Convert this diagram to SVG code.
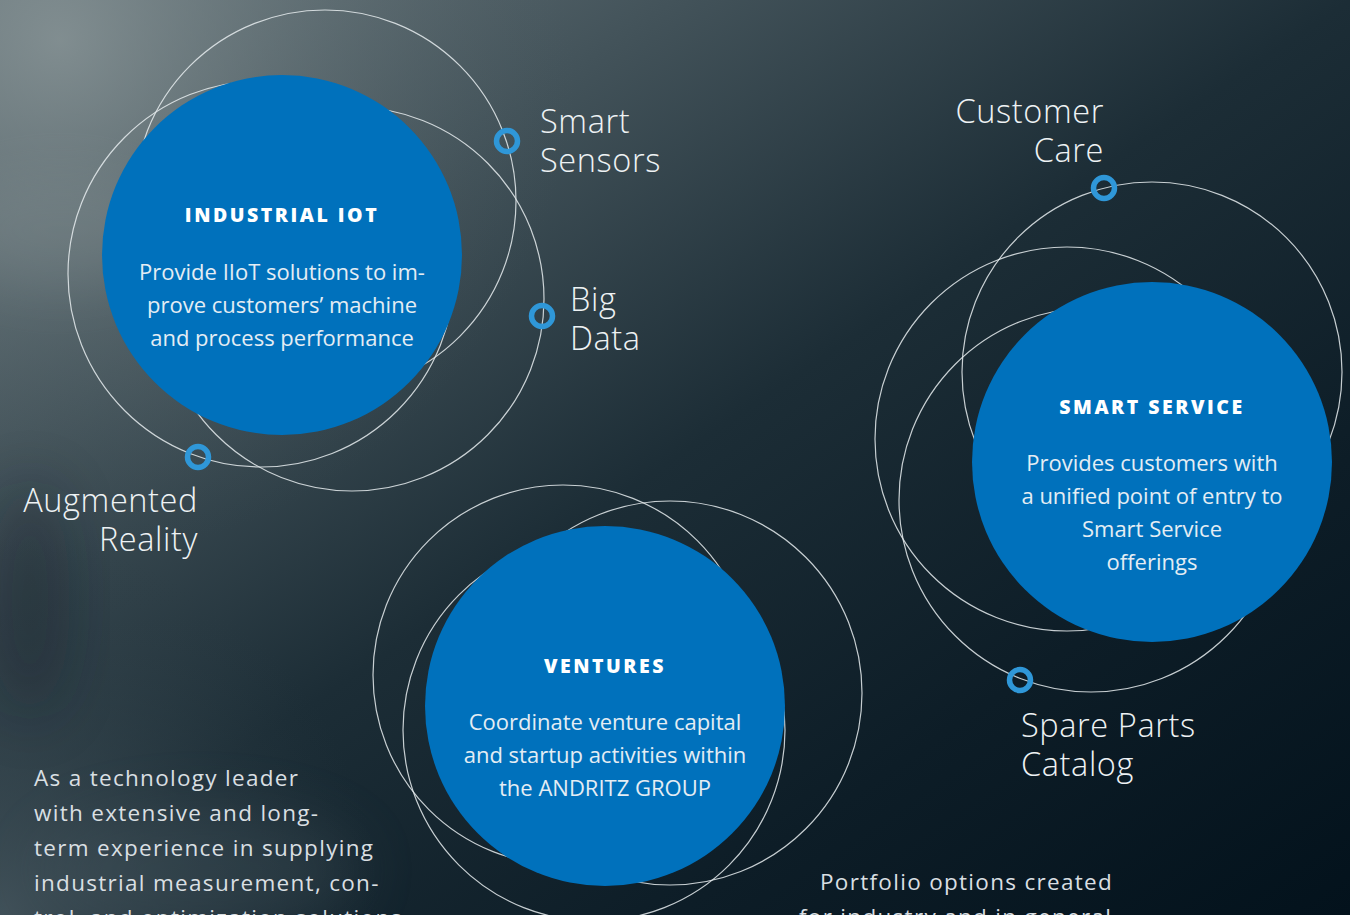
<svg xmlns="http://www.w3.org/2000/svg" width="1350" height="915" viewBox="0 0 1350 915">
<defs>
<linearGradient id="bg" x1="0" y1="0" x2="1" y2="1">
<stop offset="0" stop-color="#6c7a7f"/>
<stop offset="0.25" stop-color="#43535a"/>
<stop offset="0.5" stop-color="#1c2d36"/>
<stop offset="0.75" stop-color="#0d1d27"/>
<stop offset="1" stop-color="#03121c"/>
</linearGradient>
<radialGradient id="glowTL" cx="60" cy="40" r="520" gradientUnits="userSpaceOnUse">
<stop offset="0" stop-color="#8a9698" stop-opacity="0.75"/>
<stop offset="0.5" stop-color="#6a787c" stop-opacity="0.35"/>
<stop offset="1" stop-color="#4a585e" stop-opacity="0"/>
</radialGradient>
<radialGradient id="glowBL" cx="0" cy="915" r="380" gradientUnits="userSpaceOnUse">
<stop offset="0" stop-color="#4a5a62" stop-opacity="0.8"/>
<stop offset="1" stop-color="#2a3a42" stop-opacity="0"/>
</radialGradient>
<filter id="blur" x="-50%" y="-50%" width="200%" height="200%">
<feGaussianBlur stdDeviation="30"/>
</filter>
<style>
.orbit{fill:none;stroke:#e6ecef;stroke-width:1.2;stroke-opacity:0.85}
.hub{fill:#0071bc}
.ring{fill:none;stroke:#2f97d8;stroke-width:5.5}
.title{font-family:"Open Sans","Liberation Sans",sans-serif;font-weight:800;font-size:19.5px;letter-spacing:2.5px;fill:#ffffff;text-anchor:middle}
.body{font-family:"Open Sans","Liberation Sans",sans-serif;font-size:22px;fill:#e4edf4;text-anchor:middle}
.label{font-family:"Open Sans","Liberation Sans",sans-serif;font-weight:300;font-size:32.5px;letter-spacing:0.6px;fill:#eef2f4}
.para{font-family:"Open Sans","Liberation Sans",sans-serif;font-size:22.5px;letter-spacing:1.3px;fill:#d9dfe2}
</style>
</defs>

<g id="background">
<rect width="1350" height="915" fill="url(#bg)"/>
<rect width="1350" height="915" fill="url(#glowTL)"/>
<rect width="1350" height="915" fill="url(#glowBL)"/>
<ellipse cx="60" cy="230" rx="120" ry="60" fill="#9aa4a6" opacity="0.2" filter="url(#blur)"/>
<ellipse cx="30" cy="600" rx="40" ry="120" fill="#0a1820" opacity="0.3" filter="url(#blur)"/>
<ellipse cx="200" cy="870" rx="160" ry="60" fill="#4a5a62" opacity="0.3" filter="url(#blur)"/>
</g>

<g id="connectors">
<circle class="orbit" cx="325" cy="201" r="191"/>
<circle class="orbit" cx="261" cy="274" r="193"/>
<circle class="orbit" cx="352" cy="299" r="192"/>
<circle class="orbit" cx="1152" cy="372" r="190"/>
<circle class="orbit" cx="1067" cy="439" r="192"/>
<circle class="orbit" cx="1091" cy="500" r="192"/>
<circle class="orbit" cx="563" cy="675" r="190"/>
<circle class="orbit" cx="670" cy="693" r="192"/>
<circle class="orbit" cx="594" cy="730" r="191"/>
</g>

<g id="industrial-iot">
<circle class="hub" cx="282" cy="255" r="180"/>
<text class="title" x="282" y="222">INDUSTRIAL IOT</text>
<text class="body" x="282" y="280">Provide IIoT solutions to im-</text>
<text class="body" x="282" y="313">prove customers’ machine</text>
<text class="body" x="282" y="346">and process performance</text>
</g>

<g id="smart-service">
<circle class="hub" cx="1152" cy="462" r="180"/>
<text class="title" x="1152" y="414">SMART SERVICE</text>
<text class="body" x="1152" y="471">Provides customers with</text>
<text class="body" x="1152" y="504">a unified point of entry to</text>
<text class="body" x="1152" y="537">Smart Service</text>
<text class="body" x="1152" y="570">offerings</text>
</g>

<g id="ventures">
<circle class="hub" cx="605" cy="706" r="180"/>
<text class="title" x="605" y="673">VENTURES</text>
<text class="body" x="605" y="730">Coordinate venture capital</text>
<text class="body" x="605" y="763">and startup activities within</text>
<text class="body" x="605" y="796">the ANDRITZ GROUP</text>
</g>

<g id="smart-sensors">
<circle class="ring" cx="507" cy="141" r="10.5"/>
<text class="label" x="540" y="133">Smart</text>
<text class="label" x="540" y="172">Sensors</text>
</g>

<g id="big-data">
<circle class="ring" cx="542" cy="316" r="10.5"/>
<text class="label" x="570" y="311">Big</text>
<text class="label" x="570" y="350">Data</text>
</g>

<g id="augmented-reality">
<circle class="ring" cx="198" cy="457" r="10.5"/>
<text class="label" x="198" y="512" text-anchor="end">Augmented</text>
<text class="label" x="198" y="551" text-anchor="end">Reality</text>
</g>

<g id="customer-care">
<circle class="ring" cx="1104" cy="188" r="10.5"/>
<text class="label" x="1104" y="123" text-anchor="end">Customer</text>
<text class="label" x="1104" y="162" text-anchor="end">Care</text>
</g>

<g id="spare-parts-catalog">
<circle class="ring" cx="1020" cy="680" r="10.5"/>
<text class="label" x="1021" y="737">Spare Parts</text>
<text class="label" x="1021" y="776">Catalog</text>
</g>

<g id="intro-text">
<text class="para" x="34" y="786">As a technology leader</text>
<text class="para" x="34" y="821">with extensive and long-</text>
<text class="para" x="34" y="856">term experience in supplying</text>
<text class="para" x="34" y="891">industrial measurement, con-</text>
<text class="para" x="34" y="926">trol, and optimization solutions</text>
</g>

<g id="portfolio-text">
<text class="para" x="820" y="890">Portfolio options created</text>
<text class="para" x="799" y="925">for industry and in general</text>
</g>
</svg>
